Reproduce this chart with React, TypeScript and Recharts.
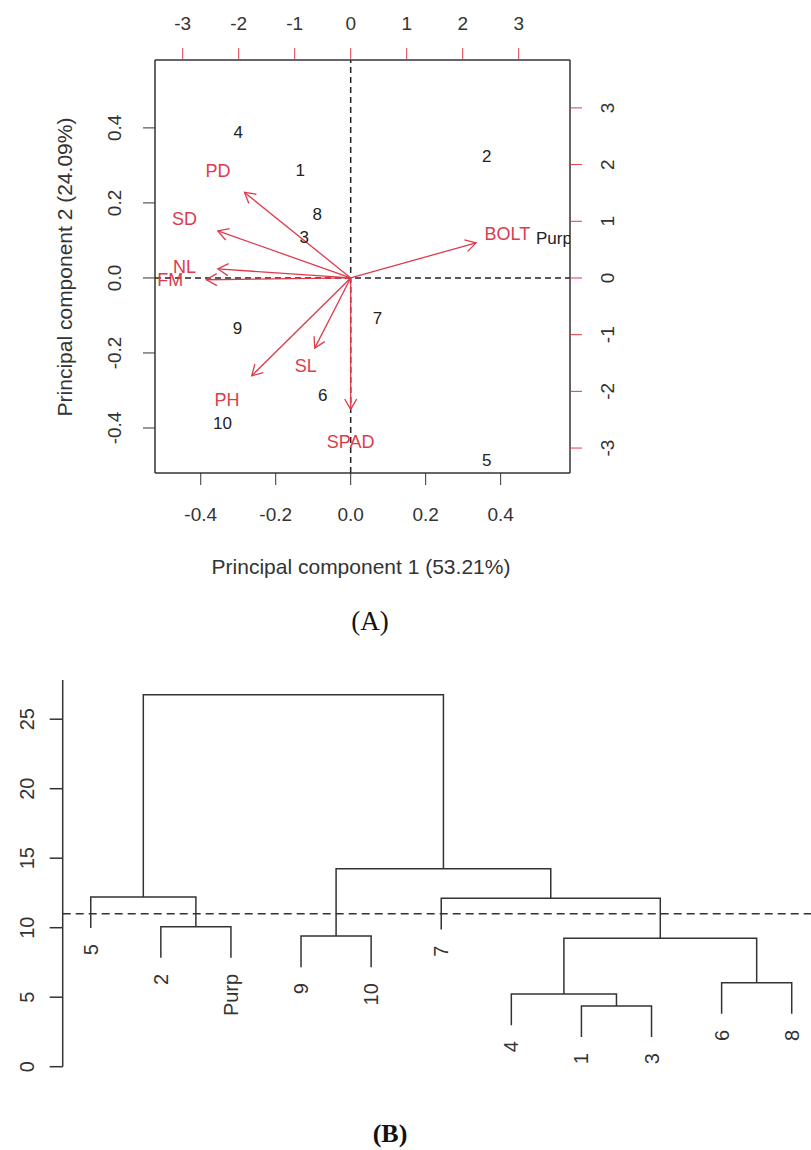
import { ScatterChart, Scatter, XAxis, YAxis, ReferenceLine } from 'recharts';

const FONT = '"Liberation Sans", Arial, sans-serif';
const SERIF = '"Liberation Serif", "Times New Roman", serif';
const RED = '#dd3b4d';
const INK = '#333';

// (A) PCA biplot – variable loadings (red) and accession scores (black)
const varNames = ['PD', 'SD', 'NL', 'FM', 'BOLT', 'PH', 'SL', 'SPAD'];
const pc1Load = [-0.354, -0.443, -0.443, -0.481, 0.418, -0.33, -0.12, 0.0];
const pc2Load = [0.285, 0.157, 0.03, -0.006, 0.117, -0.326, -0.234, -0.438];

const sampleNames = ['1', '2', '3', '4', '5', '6', '7', '8', '9', '10', 'Purp'];
const pc1Score = [-0.9, 2.43, -0.83, -2.01, 2.43, -0.5, 0.48, -0.6, -2.02, -2.29, 3.63];
const pc2Score = [1.9, 2.14, 0.72, 2.56, -3.22, -2.08, -0.71, 1.12, -0.89, -2.56, 0.69];

const loadTicks = [-0.4, -0.2, 0, 0.2, 0.4];
const scoreTicks = [-3, -2, -1, 0, 1, 2, 3];

// (B) dendrogram – leaf order and merges (left, right, height)
const leafOrder = ['5', '2', 'Purp', '9', '10', '7', '4', '1', '3', '6', '8'];
const mergeLeft = ['1', '4', '6', 'm1', '9', '2', '7', '5', 'm4', 'm7'];
const mergeRight = ['3', 'm0', '8', 'm2', '10', 'Purp', 'm3', 'm5', 'm6', 'm8'];
const mergeHeight = [4.37, 5.23, 6.04, 9.24, 9.4, 10.07, 12.11, 12.21, 14.24, 26.76];
const heightTicks = [0, 5, 10, 15, 20, 25];
const cutHeight = 11;

const loadings = varNames.map((name, i) => ({ name, x: pc1Load[i], y: pc2Load[i] }));
const scores = sampleNames.map((name, i) => ({ name, x: pc1Score[i], y: pc2Score[i] }));

// dendrogram layout (as R's plot.hclust, hang = 0.1)
const hang = 0.1 * (Math.max(...mergeHeight) - Math.min(...mergeHeight));
const nodeX: Record<string, number> = {};
const parentH: Record<string, number> = {};
const nodeH: Record<string, number> = {};
leafOrder.forEach((n, i) => (nodeX[n] = i + 1));
mergeHeight.forEach((h, i) => {
    const id = 'm' + i;
    nodeX[id] = (nodeX[mergeLeft[i]] + nodeX[mergeRight[i]]) / 2;
    nodeH[id] = h;
    parentH[mergeLeft[i]] = h;
    parentH[mergeRight[i]] = h;
});
const bottomOf = (n: string) => (n in nodeH ? nodeH[n] : parentH[n] - hang);
const links = mergeHeight.map((h, i) => {
    const l = mergeLeft[i];
    const r = mergeRight[i];
    return [
        { x: nodeX[l], y: bottomOf(l) },
        { x: nodeX[l], y: h },
        { x: nodeX[r], y: h },
        { x: nodeX[r], y: bottomOf(r) },
    ];
});
const leaves = leafOrder.map((name) => ({ name, x: nodeX[name], y: bottomOf(name) }));

const txt = { fontFamily: FONT, fill: INK };

const BottomTick = ({ x, y, payload }: any) => (
    <text x={x} y={y + 27} textAnchor="middle" dominantBaseline="central" fontSize={19} {...txt}>
        {Number(payload.value).toFixed(1)}
    </text>
);
const TopTick = ({ x, y, payload }: any) => (
    <text x={x} y={y - 23} textAnchor="middle" dominantBaseline="central" fontSize={19} {...txt}>
        {payload.value}
    </text>
);
const LeftTick = ({ x, y, payload }: any) => (
    <text x={x - 26} y={y} transform={`rotate(-90 ${x - 26} ${y})`} textAnchor="middle" dominantBaseline="central" fontSize={19} {...txt}>
        {Number(payload.value).toFixed(1)}
    </text>
);
const RightTick = ({ x, y, payload }: any) => (
    <text x={x + 24} y={y} transform={`rotate(-90 ${x + 24} ${y})`} textAnchor="middle" dominantBaseline="central" fontSize={19} {...txt}>
        {payload.value}
    </text>
);
const HeightTick = ({ x, y, payload }: any) => (
    <text x={x - 21} y={y} transform={`rotate(-90 ${x - 21} ${y})`} textAnchor="middle" dominantBaseline="central" fontSize={20} {...txt}>
        {payload.value}
    </text>
);

const Arrow = ({ x1, y1, x2, y2 }: any) => {
    const a = Math.atan2(y2 - y1, x2 - x1);
    const len = 12;
    const w = Math.PI / 6;
    const h1 = `${x2 - len * Math.cos(a - w)},${y2 - len * Math.sin(a - w)}`;
    const h2 = `${x2 - len * Math.cos(a + w)},${y2 - len * Math.sin(a + w)}`;
    return (
        <g stroke={RED} strokeWidth={1.3} fill="none">
            <line x1={x1} y1={y1} x2={x2} y2={y2} />
            <polyline points={`${h1} ${x2},${y2} ${h2}`} />
        </g>
    );
};

const VarLabel = ({ cx, cy, payload }: any) => (
    <text x={cx} y={cy} textAnchor="middle" dominantBaseline="central" fontSize={18} fontFamily={FONT} fill={RED}>
        {payload.name}
    </text>
);
const ScoreLabel = ({ cx, cy, payload }: any) => (
    <text x={cx} y={cy} textAnchor="middle" dominantBaseline="central" fontSize={17} fontFamily={FONT} fill="#222">
        {payload.name}
    </text>
);
const LeafLabel = ({ cx, cy, payload }: any) => (
    <text x={cx} y={cy + 16} transform={`rotate(-90 ${cx} ${cy + 16})`} textAnchor="end" dominantBaseline="central" fontSize={20} {...txt}>
        {payload.name}
    </text>
);

const axisLine = { stroke: INK, strokeWidth: 1.5 };

export default function App() {
    return (
        <div style={{ position: 'absolute', left: 0, top: 0, width: 811, height: 1150, background: '#fff', overflow: 'hidden' }}>
            {/* (A) biplot */}
            <div style={{ position: 'absolute', left: 0, top: 0 }}>
                <ScatterChart width={811} height={600} margin={{ top: 20, right: 181, bottom: 77, left: 95 }}>
                    <XAxis xAxisId="pc" dataKey="x" type="number" orientation="bottom" height={50}
                        domain={[-0.522, 0.585]} ticks={loadTicks} allowDataOverflow tickSize={12}
                        axisLine={axisLine} tickLine={{ stroke: INK }} tick={<BottomTick />} />
                    <XAxis xAxisId="sc" dataKey="x" type="number" orientation="top" height={40}
                        domain={[-3.495, 3.916]} ticks={scoreTicks} allowDataOverflow tickSize={12}
                        axisLine={axisLine} tickLine={{ stroke: RED }} tick={<TopTick />} />
                    <YAxis yAxisId="pc" dataKey="y" type="number" orientation="left" width={60}
                        domain={[-0.52, 0.581]} ticks={loadTicks} allowDataOverflow tickSize={12}
                        axisLine={axisLine} tickLine={{ stroke: INK }} tick={<LeftTick />} />
                    <YAxis yAxisId="sc" dataKey="y" type="number" orientation="right" width={60}
                        domain={[-3.44, 3.845]} ticks={scoreTicks} allowDataOverflow tickSize={12}
                        axisLine={axisLine} tickLine={{ stroke: RED }} tick={<RightTick />} />
                    <ReferenceLine xAxisId="pc" yAxisId="pc" x={0} stroke="#222" strokeWidth={1.5} strokeDasharray="6 4" />
                    <ReferenceLine xAxisId="pc" yAxisId="pc" y={0} stroke="#222" strokeWidth={1.5} strokeDasharray="6 4" />
                    {loadings.map((d) => (
                        <ReferenceLine key={d.name} xAxisId="pc" yAxisId="pc"
                            segment={[{ x: 0, y: 0 }, { x: d.x * 0.8, y: d.y * 0.8 }]}
                            shape={(p: any) => <Arrow {...p} />} />
                    ))}
                    <Scatter xAxisId="pc" yAxisId="pc" data={loadings} shape={<VarLabel />} isAnimationActive={false} />
                    <Scatter xAxisId="sc" yAxisId="sc" data={scores} shape={<ScoreLabel />} isAnimationActive={false} />
                </ScatterChart>
            </div>
            <div style={{ position: 'absolute', left: 0, width: 722, top: 556, textAlign: 'center', fontFamily: FONT, fontSize: 21, lineHeight: '22px', color: INK }}>
                Principal component 1 (53.21%)
            </div>
            <div style={{ position: 'absolute', left: 65 - 200, width: 400, top: 256, textAlign: 'center', fontFamily: FONT, fontSize: 21, lineHeight: '22px', color: INK, transform: 'rotate(-90deg)' }}>
                Principal component 2 (24.09%)
            </div>
            <div style={{ position: 'absolute', left: 0, width: 740, top: 606, textAlign: 'center', fontFamily: SERIF, fontSize: 27, lineHeight: '30px', color: '#111' }}>
                (A)
            </div>

            {/* (B) dendrogram */}
            <div style={{ position: 'absolute', left: 0, top: 640 }}>
                <ScatterChart width={811} height={450} margin={{ top: 40, right: 0, bottom: 23.3, left: 2.7 }}>
                    <XAxis dataKey="x" type="number" domain={[0.6, 11.275]} hide allowDataOverflow />
                    <YAxis dataKey="y" type="number" width={60} domain={[0, 27.82]} ticks={heightTicks}
                        allowDataOverflow tickSize={13} axisLine={axisLine} tickLine={{ stroke: INK, strokeWidth: 1.5 }}
                        tick={<HeightTick />} />
                    <ReferenceLine y={cutHeight} stroke={INK} strokeWidth={1.5} strokeDasharray="8 5" />
                    {links.map((pts, i) => (
                        <Scatter key={i} data={pts} line={{ stroke: INK, strokeWidth: 1.5 }} lineType="joint"
                            shape={() => <g />} isAnimationActive={false} />
                    ))}
                    <Scatter data={leaves} shape={<LeafLabel />} isAnimationActive={false} />
                </ScatterChart>
            </div>
            <div style={{ position: 'absolute', left: 0, width: 780, top: 1120, textAlign: 'center', fontFamily: SERIF, fontSize: 26, fontWeight: 'bold', lineHeight: '28px', color: '#111' }}>
                (B)
            </div>
        </div>
    );
}
